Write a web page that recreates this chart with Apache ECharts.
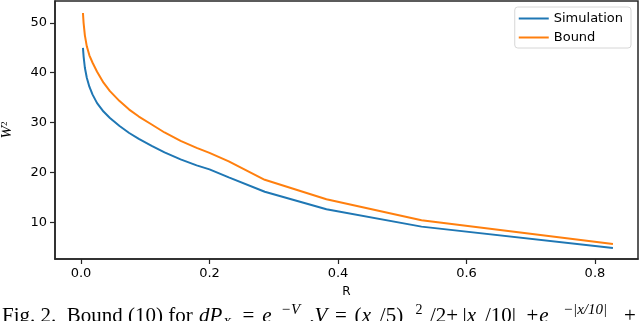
<!DOCTYPE html>
<html lang="en">
<head>
    <meta charset="UTF-8">
    <title>Bound vs Simulation</title>
    <style>
        html, body { margin: 0; padding: 0; background: #fff; }
        #main { width: 640px; height: 321px; }
    </style>
</head>
<body>
<div id="main"></div>
<script src="https://cdn.jsdelivr.net/npm/echarts@6/dist/echarts.min.js"></script>
<script>
    // R values where the curves were sampled
    var rValues = [0.003, 0.004, 0.006, 0.009, 0.013, 0.018, 0.025, 0.035, 0.045, 0.06, 0.075, 0.09, 0.11, 0.13, 0.155, 0.18, 0.2, 0.23, 0.286, 0.382, 0.53, 0.828];
    var simulation = [45.0, 43.3, 41.0, 39.0, 37.2, 35.6, 33.9, 32.2, 30.9, 29.3, 27.9, 26.7, 25.3, 24.0, 22.6, 21.4, 20.6, 19.0, 16.1, 12.6, 9.1, 4.8];
    var bound = [52.0, 50.0, 47.5, 45.3, 43.5, 42.0, 40.2, 38.0, 36.3, 34.3, 32.6, 31.2, 29.6, 28.0, 26.3, 24.9, 23.9, 22.2, 18.5, 14.6, 10.4, 5.6];
    var xTicks = [0, 0.2, 0.4, 0.6, 0.8];
    var yTicks = [10, 20, 30, 40, 50];

    function pairs(ys) {
        return rValues.map(function (x, i) { return [x, ys[i]]; });
    }

    var axisColor = '#262626';
    var myChart = echarts.init(document.getElementById('main'));

    // caption styles (serif, italic for math symbols)
    var cap = { fontFamily: 'Liberation Serif', fontSize: 21, lineHeight: 26, fill: '#000' };
    function st(extra) {
        var o = {};
        for (var k in cap) o[k] = cap[k];
        for (var j in extra) o[j] = extra[j];
        return o;
    }

    var option = {
        animation: false,
        grid: {
            left: 55, right: 2, top: 1, bottom: 62,
            outerBoundsMode: 'none',
            containLabel: false,
            show: true,
            borderColor: axisColor,
            borderWidth: 1.5
        },
        legend: {
            right: 9, top: 7,
            orient: 'vertical',
            itemWidth: 30, itemHeight: 2, itemGap: 6,
            padding: [5, 8, 4, 4],
            borderColor: '#d6d6d6', borderWidth: 1, borderRadius: 3,
            icon: 'rect',
            textStyle: { fontFamily: 'DejaVu Sans', fontSize: 13, color: '#000' },
            data: ['Simulation', 'Bound']
        },
        xAxis: {
            type: 'value',
            min: -0.0405, max: 0.867,
            name: 'R',
            nameLocation: 'middle',
            nameGap: 27,
            nameTextStyle: { fontFamily: 'DejaVu Sans', fontSize: 12, color: '#000' },
            splitLine: { show: false },
            axisLine: { onZero: false, lineStyle: { color: axisColor, width: 1.5 } },
            axisTick: { show: true, inside: false, length: 5, customValues: xTicks, lineStyle: { color: axisColor, width: 1.2 } },
            axisLabel: {
                customValues: xTicks,
                margin: 8,
                fontFamily: 'DejaVu Sans', fontSize: 13, color: '#000',
                formatter: function (v) { return v.toFixed(1); }
            }
        },
        yAxis: {
            type: 'value',
            min: 2.6, max: 54.4,
            name: '{w|W}{s|2}',
            nameLocation: 'middle',
            nameRotate: 90,
            nameGap: 40,
            nameTextStyle: {
                color: '#000',
                rich: {
                    w: { fontFamily: 'Liberation Serif', fontStyle: 'italic', fontSize: 15, color: '#000' },
                    s: { fontFamily: 'Liberation Serif', fontSize: 9, color: '#000', verticalAlign: 'top', padding: [0, 0, 6, 0] }
                }
            },
            splitLine: { show: false },
            axisLine: { show: true, onZero: false, lineStyle: { color: axisColor, width: 1.5 } },
            axisTick: { show: true, inside: false, length: 5, customValues: yTicks, lineStyle: { color: axisColor, width: 1.2 } },
            axisLabel: {
                customValues: yTicks,
                margin: 8,
                fontFamily: 'DejaVu Sans', fontSize: 13, color: '#000'
            }
        },
        series: [{
            name: 'Simulation',
            type: 'line',
            showSymbol: false,
            smooth: false,
            data: pairs(simulation),
            lineStyle: { color: '#1f77b4', width: 2 },
            itemStyle: { color: '#1f77b4' }
        }, {
            name: 'Bound',
            type: 'line',
            showSymbol: false,
            smooth: false,
            data: pairs(bound),
            lineStyle: { color: '#ff7f0e', width: 2 },
            itemStyle: { color: '#ff7f0e' }
        }],
        graphic: [{
            type: 'text',
            left: 2,
            top: 303,
            style: {
                text: '{a|Fig. 2.  Bound (10) for}{dp|dP}{sub|X}{eq1|=}{e1|e}{s1|−V}{cm|,}{v|V}{eq2|=}{p1|(}{x1|x}{p2|/5)}{s2|2}{p3|/2+}{b1||}{x2|x}{p4|/10|}{pl1|+}{e2|e}{s3|−|x/10|}{pl2|+}',
                fontFamily: 'Liberation Serif',
                fontSize: 21,
                lineHeight: 26,
                fill: '#000',
                rich: {
                    a: st({ width: 197 }),
                    dp: st({ fontStyle: 'italic', width: 24 }),
                    sub: st({ fontStyle: 'italic', fontSize: 13, width: 11, verticalAlign: 'bottom' }),
                    eq1: st({ width: 29, align: 'center' }),
                    e1: st({ fontStyle: 'italic', width: 8 }),
                    s1: st({ fontStyle: 'italic', fontSize: 15, width: 39, verticalAlign: 'top' }),
                    cm: st({ width: 4 }),
                    v: st({ fontStyle: 'italic', width: 14 }),
                    eq2: st({ width: 26, align: 'center' }),
                    p1: st({ width: 8 }),
                    x1: st({ fontStyle: 'italic', width: 9 }),
                    p2: st({ width: 41 }),
                    s2: st({ fontSize: 14, width: 14, verticalAlign: 'top' }),
                    p3: st({ width: 36 }),
                    b1: st({ width: 5 }),
                    x2: st({ fontStyle: 'italic', width: 9 }),
                    p4: st({ width: 49 }),
                    pl1: st({ width: 15, align: 'center' }),
                    e2: st({ fontStyle: 'italic', width: 8 }),
                    s3: st({ fontStyle: 'italic', fontSize: 15, width: 74, verticalAlign: 'top' }),
                    pl2: st({ width: 16 })
                }
            }
        }]
    };

    myChart.setOption(option);
</script>
</body>
</html>
